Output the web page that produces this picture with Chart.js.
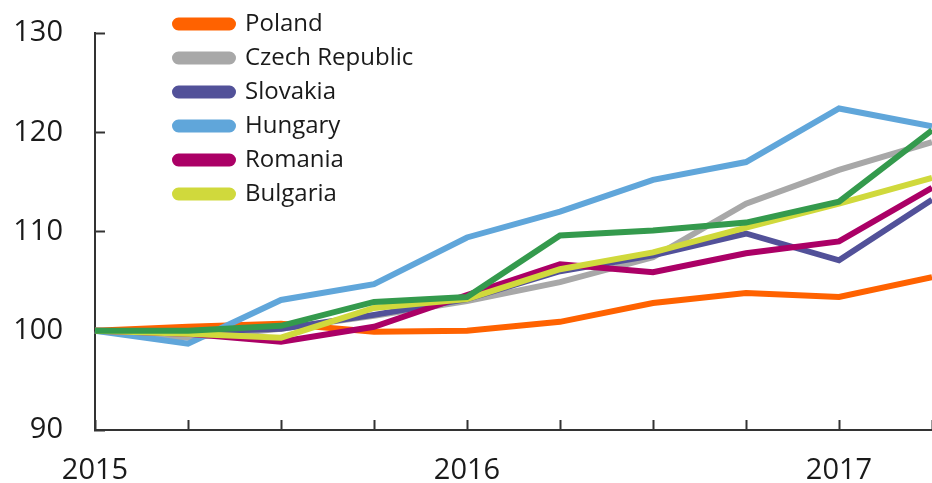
<!DOCTYPE html>
<html>
<head>
<meta charset="utf-8">
<script src="https://cdn.jsdelivr.net/npm/chart.js@4.4.1/dist/chart.umd.min.js"></script>
<style>
  html, body { margin: 0; padding: 0; background: #fff; }
  #wrap { width: 932px; height: 483px; }
</style>
</head>
<body>
<div id="wrap"><canvas id="chart"></canvas></div>
<script>
// quarters 2015Q1 .. 2017Q2, index 2015Q1 = 100
const quarters = ["2015Q1", "2015Q2", "2015Q3", "2015Q4", "2016Q1", "2016Q2", "2016Q3", "2016Q4", "2017Q1", "2017Q2"];
const yearLabels = ["2015", "", "", "", "2016", "", "", "", "2017", ""];
const yTicks = [90, 100, 110, 120, 130];

const poland   = [100, 100.4, 100.7, 99.9, 100.0, 100.9, 102.8, 103.8, 103.4, 105.4];
const czech    = [100, 99.3, 100.2, 101.5, 103.0, 104.9, 107.4, 112.8, 116.2, 119.0];
const slovakia = [100, 99.9, 100.2, 101.6, 103.2, 106.0, 107.6, 109.8, 107.1, 113.2];
const hungary  = [100, 98.7, 103.1, 104.7, 109.4, 112.0, 115.2, 117.0, 122.4, 120.6];
const romania  = [100, 99.7, 98.9, 100.4, 103.6, 106.7, 105.9, 107.8, 109.0, 114.4];
const bulgaria = [100, 99.7, 99.3, 102.3, 103.2, 106.2, 107.9, 110.4, 112.8, 115.4];
const other    = [100, 100.0, 100.5, 102.9, 103.4, 109.6, 110.1, 110.9, 113.0, 120.2]; // green line, not in legend

const seriesNames  = ["Poland", "Czech Republic", "Slovakia", "Hungary", "Romania", "Bulgaria", ""];
const seriesData   = [poland, czech, slovakia, hungary, romania, bulgaria, other];
const seriesColors = ["#FF6200", "#A8A8A8", "#525199", "#60A6DA", "#AB0066", "#D0D93C", "#349A4D"];

const fontFamily = "'Open Sans', sans-serif";

// later series on top, like the original
const datasets = seriesData.map((d, i) => ({
  label: seriesNames[i],
  data: d,
  borderColor: seriesColors[i],
  backgroundColor: seriesColors[i],
  borderWidth: 6,
  pointRadius: 0,
  tension: 0,
  order: seriesData.length - i,
}));

// move the legend to where it sits in the picture
const legendPos = {
  id: "legendPos",
  afterLayout(chart) {
    const lg = chart.legend;
    const w = lg.width, h = lg.height;
    lg.left = 165;
    lg.top = 2;
    lg.right = lg.left + w;
    lg.bottom = lg.top + h;
  },
};

const config = {
  type: "line",
  data: { labels: quarters, datasets: datasets },
  options: {
    responsive: true,
    maintainAspectRatio: false,
    animation: false,
    layout: { padding: { top: 33, left: 0, right: 0, bottom: 0 } },
    plugins: {
      tooltip: { enabled: false },
      legend: {
        position: "chartArea",
        fullSize: false,
        align: "start",
        labels: {
          font: { family: fontFamily, size: 24 },
          color: "#1a1a1a",
          boxWidth: 58,
          boxHeight: 7,
          padding: 10,
          useBorderRadius: true,
          borderRadius: 3.5,
          filter: (item) => item.text !== "",
          sort: (a, b) => a.datasetIndex - b.datasetIndex,
        },
      },
    },
    scales: {
      x: {
        offset: false,
        grid: { drawOnChartArea: false, drawTicks: true, tickLength: -10, tickWidth: 2, color: "#333" },
        border: { display: true, color: "#333", width: 2 },
        ticks: {
          autoSkip: false,
          maxRotation: 0,
          padding: 33,
          color: "#1a1a1a",
          font: { family: fontFamily, size: 29 },
          callback: (v, i) => yearLabels[i],
        },
        afterFit: (scale) => {
          scale.height = 53;
          scale.paddingLeft = 0;
          scale.paddingRight = 0;
        },
      },
      y: {
        min: 90,
        max: 130,
        afterBuildTicks: (scale) => { scale.ticks = yTicks.map((v) => ({ value: v })); },
        grid: { drawOnChartArea: false, drawTicks: true, tickLength: -10, tickWidth: 2, color: "#333" },
        border: { display: true, color: "#333", width: 2 },
        ticks: {
          padding: 42,
          color: "#1a1a1a",
          font: { family: fontFamily, size: 29 },
        },
        afterFit: (scale) => {
          scale.width = 95;
          scale.paddingTop = 0;
          scale.paddingBottom = 0;
        },
      },
    },
  },
  plugins: [legendPos],
};

const ctx = document.getElementById("chart").getContext("2d");
const chart = new Chart(ctx, config);
</script>
</body>
</html>
